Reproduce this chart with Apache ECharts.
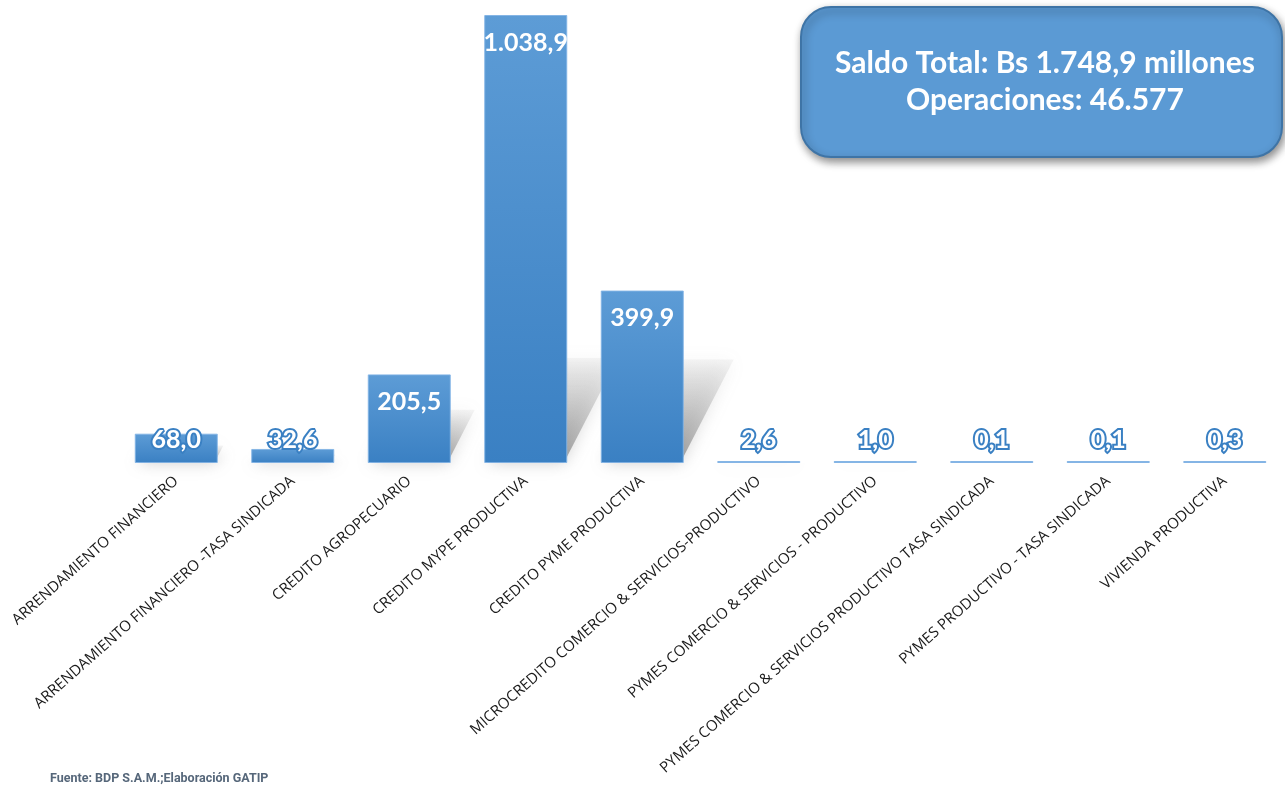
<!DOCTYPE html>
<html>
<head>
<meta charset="utf-8">
<script src="https://cdn.jsdelivr.net/npm/echarts@6/dist/echarts.min.js"></script>
<style>
  html, body { margin: 0; padding: 0; background: #fff; }
  #chart { width: 1285px; height: 797px; }
</style>
</head>
<body>
<div id="chart"></div>
<script>
// categories and values (Bs millones)
const categories = [
  'ARRENDAMIENTO FINANCIERO',
  'ARRENDAMIENTO FINANCIERO -TASA SINDICADA',
  'CREDITO AGROPECUARIO',
  'CREDITO MYPE PRODUCTIVA',
  'CREDITO PYME PRODUCTIVA',
  'MICROCREDITO COMERCIO & SERVICIOS-PRODUCTIVO',
  'PYMES COMERCIO & SERVICIOS - PRODUCTIVO',
  'PYMES COMERCIO & SERVICIOS PRODUCTIVO TASA SINDICADA',
  'PYMES PRODUCTIVO - TASA SINDICADA',
  'VIVIENDA PRODUCTIVA'
]
const saldo = [68.0, 32.6, 205.5, 1038.9, 399.9, 2.6, 1.0, 0.1, 0.1, 0.3]

const boxLines = ['Saldo Total: Bs 1.748,9 millones', 'Operaciones: 46.577']
const sourceNote = 'Fuente: BDP S.A.M.;Elaboración GATIP'

function fmt(v) {
  const parts = v.toFixed(1).split('.')
  parts[0] = parts[0].replace(/\B(?=(\d{3})+(?!\d))/g, '.')
  return parts.join(',')
}

const chart = echarts.init(document.getElementById('chart'))

const barData = saldo.map(v => {
  const big = v >= 100
  return {
    value: v,
    label: big
      ? { position: 'insideTop', distance: 15 }
      : {
          position: 'insideBottom', distance: 11,
          textBorderColor: '#3a80c3', textBorderWidth: 4
        }
  }
})

chart.setOption({
  animation: false,
  grid: { left: 118, right: 2, top: 15, bottom: 334, containLabel: false },
  xAxis: {
    type: 'category',
    data: categories,
    axisLine: { show: false },
    axisTick: { show: false },
    axisLabel: {
      rotate: 41.5,
      interval: 0,
      margin: 16,
      fontFamily: 'Open Sans',
      fontSize: 15,
      color: '#1a1a1a'
    }
  },
  yAxis: {
    type: 'value',
    min: 0,
    max: 'dataMax',
    show: false,
    splitLine: { show: false }
  },
  series: [
    {
      // perspective shadow behind each bar
      type: 'custom',
      z: 1,
      silent: true,
      data: saldo.map((v, i) => [i, v]),
      renderItem: (params, api) => {
        const base = api.coord([api.value(0), 0])
        const top = api.coord([api.value(0), api.value(1)])
        const h = base[1] - top[1]
        const L = Math.min(h, 175)
        const dx = L * 0.31
        const dy = L * 0.6
        const half = 38
        const x0 = base[0] - half
        const x1 = base[0] + half
        return {
          type: 'polygon',
          shape: {
            points: [
              [x0, base[1]], [x1, base[1]],
              [x1 + dx, base[1] - dy], [x0 + dx, base[1] - dy]
            ]
          },
          style: {
            fill: new echarts.graphic.LinearGradient(0, 0, 0, 1, [
              { offset: 0, color: 'rgba(140,140,140,0.08)' },
              { offset: 1, color: 'rgba(80,80,80,0.5)' }
            ]),
            shadowBlur: 16,
            shadowColor: 'rgba(100,100,100,0.6)'
          }
        }
      }
    },
    {
      type: 'bar',
      z: 2,
      data: barData,
      barWidth: 83,
      barMinHeight: 2,
      itemStyle: {
        color: new echarts.graphic.LinearGradient(0, 0, 0, 1, [
          { offset: 0, color: '#5d9cd6' },
          { offset: 1, color: '#3a80c3' }
        ]),
        borderColor: 'rgba(130,180,230,0.9)',
        borderWidth: 1
      },
      label: {
        show: true,
        formatter: p => fmt(p.value),
        fontFamily: 'Lato',
        fontWeight: 'bold',
        fontSize: 25,
        color: '#ffffff'
      }
    }
  ],
  graphic: [
    {
      type: 'rect',
      left: 800, top: 6,
      shape: { width: 481, height: 150, r: 30 },
      style: {
        fill: '#5b9ad4',
        stroke: '#3e74a6',
        lineWidth: 2,
        shadowBlur: 8,
        shadowOffsetY: 4,
        shadowOffsetX: 2,
        shadowColor: 'rgba(0,0,0,0.45)'
      },
      z: 10
    },
    {
      type: 'text',
      x: 1045, y: 82,
      style: {
        text: boxLines.join('\n'),
        align: 'center',
        verticalAlign: 'middle',
        fill: '#ffffff',
        font: 'bold 30px Lato',
        lineHeight: 37
      },
      z: 11
    },
    {
      type: 'text',
      left: 50, top: 772,
      style: {
        text: sourceNote,
        fill: '#56677a',
        font: 'bold 12.5px Roboto'
      }
    }
  ]
})
</script>
</body>
</html>
